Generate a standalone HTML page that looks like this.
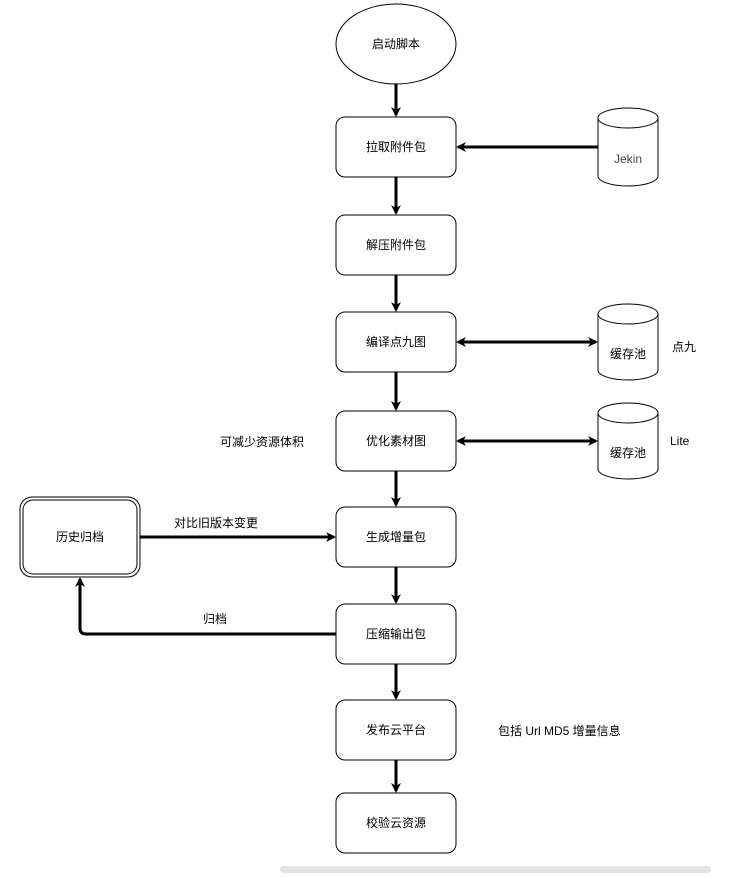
<!DOCTYPE html>
<html><head><meta charset="utf-8"><style>
body{margin:0;background:#fff;width:751px;height:873px;overflow:hidden}
text{font-family:"Liberation Sans","Noto Sans CJK SC",sans-serif;font-size:12px;fill:#000}
</style></head><body>
<svg width="751" height="873" xmlns="http://www.w3.org/2000/svg">
<defs><marker id="a" markerWidth="10" markerHeight="10" refX="8" refY="5" orient="auto" markerUnits="userSpaceOnUse"><path d="M0,0 L10,5 L0,10 L3,5z" fill="#000"/></marker>
<marker id="s" markerWidth="10" markerHeight="10" refX="2" refY="5" orient="auto" markerUnits="userSpaceOnUse"><path d="M10,0 L0,5 L10,10 L7,5z" fill="#000"/></marker></defs>
<g fill="#fff" stroke="#000" stroke-width="1">
<ellipse cx="396" cy="44" rx="60" ry="40"/>
<rect x="336" y="117" width="120" height="60" rx="9"/>
<rect x="336" y="215" width="120" height="60" rx="9"/>
<rect x="336" y="312" width="120" height="60" rx="9"/>
<rect x="336" y="411" width="120" height="60" rx="9"/>
<rect x="336" y="507" width="120" height="60" rx="9"/>
<rect x="336" y="604" width="120" height="60" rx="9"/>
<rect x="336" y="700" width="120" height="60" rx="9"/>
<rect x="129" y="793" width="0" height="0"/>
<rect x="336" y="793" width="120" height="60" rx="9"/>
<rect x="20" y="497" width="120" height="80" rx="12"/>
<rect x="23" y="500" width="114" height="74" rx="10"/>
</g>
<g fill="#fff" stroke="#000">
<path d="M598,118 v58 a30,10 0 0 0 60,0 v-58"/><ellipse cx="628" cy="118" rx="30" ry="10"/>
<path d="M598,314 v56 a30,10 0 0 0 60,0 v-56"/><ellipse cx="628" cy="314" rx="30" ry="10"/>
<path d="M598,413 v56 a30,10 0 0 0 60,0 v-56"/><ellipse cx="628" cy="413" rx="30" ry="10"/>
</g>
<g stroke="#000" stroke-width="3" fill="none">
<line x1="396" y1="84" x2="396" y2="115" marker-end="url(#a)"/>
<line x1="396" y1="177" x2="396" y2="213" marker-end="url(#a)"/>
<line x1="396" y1="275" x2="396" y2="310" marker-end="url(#a)"/>
<line x1="396" y1="372" x2="396" y2="409" marker-end="url(#a)"/>
<line x1="396" y1="471" x2="396" y2="505" marker-end="url(#a)"/>
<line x1="396" y1="567" x2="396" y2="602" marker-end="url(#a)"/>
<line x1="396" y1="664" x2="396" y2="698" marker-end="url(#a)"/>
<line x1="396" y1="760" x2="396" y2="791" marker-end="url(#a)"/>
<line x1="598" y1="147" x2="458" y2="147" marker-end="url(#a)"/>
<line x1="458" y1="342" x2="596" y2="342" marker-start="url(#s)" marker-end="url(#a)"/>
<line x1="458" y1="441" x2="596" y2="441" marker-start="url(#s)" marker-end="url(#a)"/>
<line x1="140" y1="537" x2="334" y2="537" marker-end="url(#a)"/>
<path d="M336,634 H86 Q80,634 80,628 V579" marker-end="url(#a)"/>
</g>
<g text-anchor="middle">
<text x="396" y="48">启动脚本</text>
<text x="396" y="151">拉取附件包</text>
<text x="396" y="249">解压附件包</text>
<text x="396" y="346">编译点九图</text>
<text x="396" y="445">优化素材图</text>
<text x="396" y="541">生成增量包</text>
<text x="396" y="638">压缩输出包</text>
<text x="396" y="734">发布云平台</text>
<text x="396" y="827">校验云资源</text>
<text x="80" y="541">历史归档</text>
<text x="628" y="163" fill="#444" style="fill:#444">Jekin</text>
<text x="628" y="358">缓存池</text>
<text x="628" y="457">缓存池</text>
<text x="216" y="527">对比旧版本变更</text>
<text x="215" y="623">归档</text>
<text x="262" y="446">可减少资源体积</text>
</g>
<text x="672" y="351">点九</text>
<text x="670" y="445">Lite</text>
<text x="498" y="735">包括 Url MD5 增量信息</text>
<rect x="280" y="866" width="431" height="7" rx="3" fill="#e3e3e3"/>
</svg>
</body></html>
